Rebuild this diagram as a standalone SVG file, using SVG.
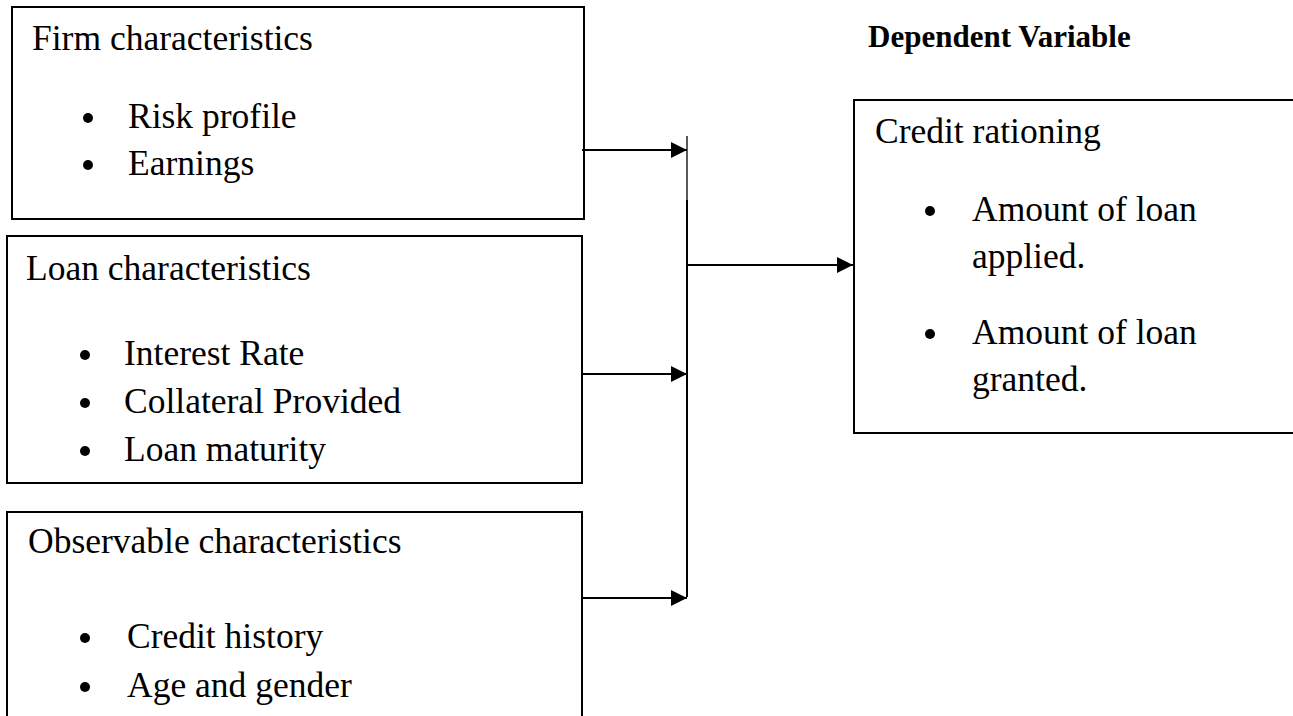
<svg xmlns="http://www.w3.org/2000/svg" width="1293" height="716" viewBox="0 0 1293 716">
<style>
.box{fill:none;stroke:#000;stroke-width:2}
.t{font-family:"Liberation Serif","Times New Roman",serif;font-size:35.5px;fill:#000}
.b{font-family:"Liberation Serif","Times New Roman",serif;font-size:31px;font-weight:bold;fill:#000}
.dot{fill:#000}
.ln{stroke:#000;stroke-width:2;fill:none}
.thin{stroke:#000;stroke-width:1.3;fill:none}
</style>
<defs>
<marker id="ah" viewBox="0 0 16 16" refX="16" refY="8" markerWidth="16" markerHeight="16" markerUnits="userSpaceOnUse" orient="auto">
<path d="M0,0 L16,8 L0,16 Z" fill="#000"/>
</marker>
</defs>
<rect width="1293" height="716" fill="#fff"/>
<g id="firm">
<rect class="box" x="12" y="7" width="572" height="212"/>
<text class="t" x="32" y="50">Firm characteristics</text>
<circle class="dot" cx="88" cy="118" r="5"/>
<text class="t" x="128" y="128">Risk profile</text>
<circle class="dot" cx="88" cy="165" r="5"/>
<text class="t" x="128" y="175">Earnings</text>
</g>
<g id="loan">
<rect class="box" x="7" y="236" width="575" height="247"/>
<text class="t" x="26" y="280">Loan characteristics</text>
<circle class="dot" cx="85" cy="355" r="5"/>
<text class="t" x="124" y="365">Interest Rate</text>
<circle class="dot" cx="85" cy="403" r="5"/>
<text class="t" x="124" y="413">Collateral Provided</text>
<circle class="dot" cx="85" cy="451" r="5"/>
<text class="t" x="124" y="461">Loan maturity</text>
</g>
<g id="observable">
<path class="box" d="M7,720 L7,512 L582,512 L582,720"/>
<text class="t" x="28" y="553">Observable characteristics</text>
<circle class="dot" cx="85" cy="638" r="5"/>
<text class="t" x="127" y="648">Credit history</text>
<circle class="dot" cx="85" cy="687" r="5"/>
<text class="t" x="127" y="697">Age and gender</text>
</g>
<g id="dependent-label">
<text class="b" x="868" y="47">Dependent Variable</text>
</g>
<g id="credit">
<path class="box" d="M1300,100 L854,100 L854,433 L1300,433"/>
<text class="t" x="875" y="143">Credit rationing</text>
<circle class="dot" cx="930" cy="211" r="5"/>
<text class="t" x="972" y="221">Amount of loan</text>
<text class="t" x="972" y="268">applied.</text>
<circle class="dot" cx="930" cy="334" r="5"/>
<text class="t" x="972" y="344">Amount of loan</text>
<text class="t" x="972" y="391">granted.</text>
</g>
<g id="connectors">
<line class="thin" x1="687" y1="136" x2="687" y2="200"/>
<line class="ln" x1="687" y1="200" x2="687" y2="597"/>
<line class="ln" x1="582" y1="150" x2="687" y2="150" marker-end="url(#ah)"/>
<line class="ln" x1="582" y1="374" x2="687" y2="374" marker-end="url(#ah)"/>
<line class="ln" x1="582" y1="598" x2="687" y2="598" marker-end="url(#ah)"/>
<line class="ln" x1="687" y1="265" x2="853" y2="265" marker-end="url(#ah)"/>
</g>
</svg>
